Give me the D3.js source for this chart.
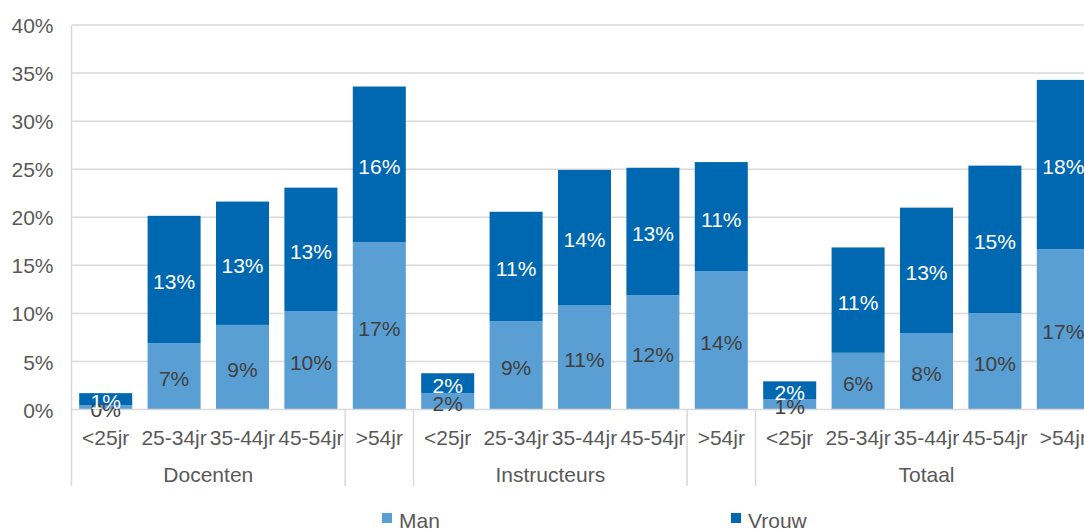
<!DOCTYPE html>
<html>
<head>
<meta charset="utf-8">
<script src="https://cdn.jsdelivr.net/npm/d3@7"></script>
<style>
  html, body { margin: 0; padding: 0; background: #fff; overflow: hidden; }
  svg { display: block; font-family: "Liberation Sans", Arial, sans-serif; }
</style>
</head>
<body>
<svg id="chart" width="1084" height="529"></svg>
<script>
// ---- data ----
const categories = ["<25jr", "25-34jr", "35-44jr", "45-54jr", ">54jr",
                    "<25jr", "25-34jr", "35-44jr", "45-54jr", ">54jr",
                    "<25jr", "25-34jr", "35-44jr", "45-54jr", ">54jr"];
const groups = ["Docenten", "Instructeurs", "Totaal"];
// category index ranges [start, end) each group label spans
const groupRanges = [[0, 4], [5, 9], [10, 15]];
// category indices before which a separator is drawn
const separatorIndices = [0, 4, 5, 9, 10];
const seriesNames = ["Man", "Vrouw"];
const manValues   = [0.0045, 0.069, 0.088, 0.1025, 0.174,
                     0.0172, 0.092, 0.1087, 0.119, 0.144,
                     0.0109, 0.059, 0.0796, 0.1004, 0.167];
const vrouwValues = [0.0125, 0.1325, 0.1283, 0.1283, 0.162,
                     0.0205, 0.1137, 0.1405, 0.1325, 0.1134,
                     0.0184, 0.1096, 0.1304, 0.1533, 0.1759];
const yTicks = [0, 0.05, 0.10, 0.15, 0.20, 0.25, 0.30, 0.35, 0.40];

// ---- layout ----
const colors = { Man: "#5a9fd4", Vrouw: "#0068b0" };
const gridColor = "#d9d9d9";
const textColor = "#595959";
const plotLeft = 71.5, plotRight = 1097.5, plotTop = 25, plotBottom = 409.5;

const svg = d3.select("#chart");

const x = d3.scaleBand()
  .domain(d3.range(categories.length))
  .range([plotLeft, plotRight])
  .paddingInner(0.225)
  .paddingOuter(0.1125);
const y = d3.scaleLinear().domain([0, 0.4]).range([plotBottom, plotTop]);

// gridlines
svg.append("g").selectAll("line")
  .data(yTicks.filter(d => d > 0))
  .join("line")
  .attr("x1", plotLeft).attr("x2", plotRight)
  .attr("y1", d => y(d)).attr("y2", d => y(d))
  .attr("stroke", gridColor).attr("stroke-width", 1.5);

// left value axis line
svg.append("line")
  .attr("x1", plotLeft).attr("x2", plotLeft).attr("y1", plotTop).attr("y2", plotBottom)
  .attr("stroke", gridColor).attr("stroke-width", 1.5);

// y axis labels
const yAxis = d3.axisLeft(y).tickValues(yTicks).tickFormat(d3.format(".0%")).tickSize(0).tickPadding(18);
const yg = svg.append("g").attr("transform", `translate(${plotLeft},0)`).call(yAxis);
yg.select(".domain").remove();
yg.selectAll("text")
  .attr("fill", textColor)
  .style("font-size", "21px")
  .style("font-family", '"Liberation Sans", Arial, sans-serif')
  .attr("dy", "0.36em");

// stacked data
const stackData = categories.map((c, i) => ({ i, Man: manValues[i], Vrouw: vrouwValues[i] }));
const stacked = d3.stack().keys(seriesNames)(stackData);

const barsG = svg.append("g");
const layers = barsG.selectAll("g")
  .data(stacked)
  .join("g")
  .attr("fill", d => colors[d.key]);

layers.selectAll("rect")
  .data(d => d)
  .join("rect")
  .attr("x", d => x(d.data.i))
  .attr("width", x.bandwidth())
  .attr("y", d => y(d[1]))
  .attr("height", d => y(d[0]) - y(d[1]));

// x axis line
svg.append("line")
  .attr("x1", plotLeft).attr("x2", plotRight).attr("y1", plotBottom).attr("y2", plotBottom)
  .attr("stroke", gridColor).attr("stroke-width", 1.5);

// value labels
const fmt = d3.format(".0%");
const labelsG = svg.append("g");
stacked.forEach(layer => {
  labelsG.append("g").selectAll("text")
    .data(layer)
    .join("text")
    .attr("x", d => x(d.data.i) + x.bandwidth() / 2)
    .attr("y", d => (y(d[0]) + y(d[1])) / 2 + 10)
    .attr("text-anchor", "middle")
    .attr("fill", layer.key === "Man" ? "#404040" : "#ffffff")
    .style("font-size", "21px")
    .text(d => fmt(d.data[layer.key]));
});

// category labels
svg.append("g").selectAll("text")
  .data(categories)
  .join("text")
  .attr("x", (d, i) => x(i) + x.bandwidth() / 2)
  .attr("y", 445)
  .attr("text-anchor", "middle")
  .attr("fill", textColor)
  .style("font-size", "21px")
  .text(d => d);

// separators (at band boundaries)
const step = x.step();
const boundary = i => plotLeft + step * i;
svg.append("g").selectAll("line")
  .data(separatorIndices)
  .join("line")
  .attr("x1", d => boundary(d))
  .attr("x2", d => boundary(d))
  .attr("y1", plotBottom).attr("y2", 486)
  .attr("stroke", gridColor).attr("stroke-width", 1.5);

// group labels
svg.append("g").selectAll("text")
  .data(groups)
  .join("text")
  .attr("x", (d, gi) => (boundary(groupRanges[gi][0]) + boundary(groupRanges[gi][1])) / 2)
  .attr("y", 481.5)
  .attr("text-anchor", "middle")
  .attr("fill", textColor)
  .style("font-size", "21px")
  .text(d => d);

// legend
const legendX = [382, 731];
const lg = svg.append("g").selectAll("g")
  .data(seriesNames)
  .join("g")
  .attr("transform", (d, i) => `translate(${legendX[i]},513)`);
lg.append("rect").attr("width", 10).attr("height", 10).attr("fill", d => colors[d]);
lg.append("text")
  .attr("x", 17).attr("y", 15)
  .attr("fill", textColor)
  .style("font-size", "21px")
  .text(d => d);
</script>
</body>
</html>
